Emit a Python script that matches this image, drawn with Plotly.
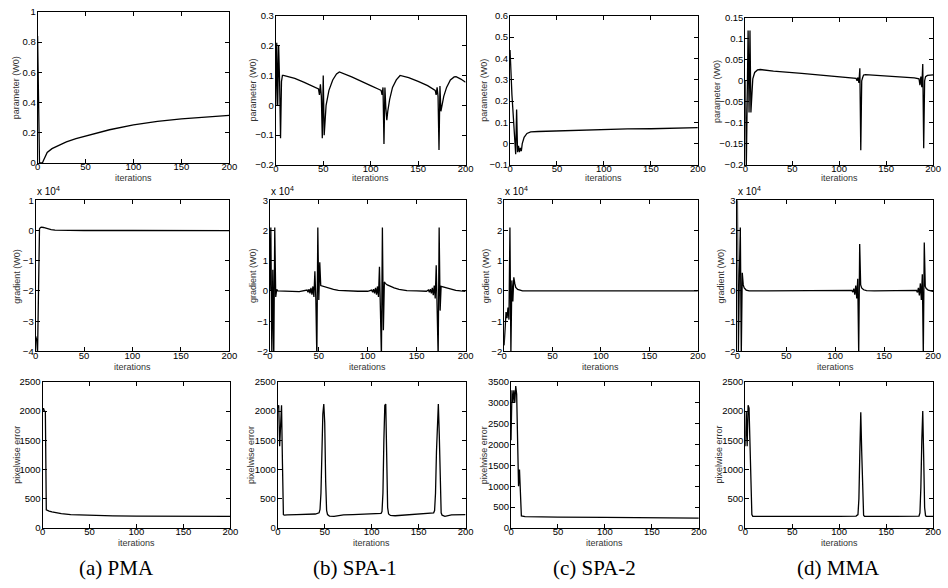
import plotly.graph_objects as go

W, H = 948, 588

# ---------------- data ----------------
# Row 1: parameter (W0)
pma_param_it = [0, 1, 2, 3, 4, 5, 6, 8, 10, 15, 20, 30, 40, 50, 75, 100, 125, 150, 175, 200]
pma_param_val = [0.84, 0.42, 0.0, 0.0, 0.0, 0.0, 0.015, 0.045, 0.07, 0.095, 0.11, 0.14, 0.162, 0.18, 0.22, 0.252, 0.275, 0.292, 0.305, 0.315]

spa1_param_it = [0, 1, 2, 3, 4, 5, 6, 7, 8, 20, 30, 40, 45, 46, 47, 48, 49, 50, 51, 52, 53, 56, 60, 64, 67,
                 80, 91, 100, 109, 111, 112, 113, 114, 115, 116, 117, 118, 120, 123, 127, 131,
                 140, 150, 160, 168, 169, 170, 171, 172, 173, 174, 175, 177, 180, 184, 188, 190, 195, 200]
spa1_param_val = [0.0, 0.21, 0.0, 0.2, 0.08, -0.11, 0.08, 0.1, 0.1, 0.09, 0.077, 0.063, 0.055, 0.035, 0.07, 0.03, -0.11, 0.1, -0.1, -0.05, 0.0, 0.05, 0.085, 0.105, 0.112,
                  0.095, 0.078, 0.066, 0.053, 0.05, 0.035, 0.06, -0.13, 0.06, -0.01, -0.05, -0.02, 0.02, 0.06, 0.085, 0.1,
                  0.093, 0.08, 0.066, 0.05, 0.035, 0.06, 0.03, -0.15, 0.065, -0.02, 0.0, 0.03, 0.06, 0.085, 0.095, 0.096, 0.088, 0.077]

spa2_param_it = [0, 1, 2, 3, 4, 5, 6, 7, 8, 9, 10, 11, 12, 13, 15, 18, 22, 30, 50, 75, 100, 125, 150, 175, 200]
spa2_param_val = [0.44, 0.3, 0.23, 0.16, 0.09, 0.02, -0.05, 0.16, -0.04, -0.01, -0.04, -0.02, -0.035, 0.0, 0.03, 0.048, 0.055, 0.057, 0.06, 0.065, 0.068, 0.069, 0.07, 0.072, 0.075]

mma_param_it = [0, 1, 2, 3, 4, 5, 6, 7, 8, 10, 13, 16, 30, 60, 90, 110, 118, 119, 120, 121, 122, 123, 124, 125, 126, 128,
                135, 160, 180, 185, 186, 187, 188, 189, 190, 191, 192, 194, 200]
mma_param_val = [0.0, -0.22, -0.05, 0.12, -0.075, 0.12, -0.075, -0.02, 0.005, 0.02, 0.026, 0.027, 0.023, 0.018, 0.012, 0.008, 0.006, 0.0, 0.008, -0.005, 0.03, -0.165, 0.0, 0.008, 0.014, 0.015,
                 0.014, 0.011, 0.007, 0.005, -0.01, 0.01, -0.015, 0.04, -0.16, 0.0, 0.01, 0.013, 0.014]

# Row 2: gradient (W0), in units of 1e4
pma_grad_it = [0, 1, 2, 3, 4, 5, 6, 8, 10, 13, 16, 20, 30, 50, 100, 150, 200]
pma_grad_val = [-3.5, -3.6, -4.05, -1.5, 0.05, 0.1, 0.11, 0.1, 0.08, 0.05, 0.03, 0.015, 0.005, 0.0, 0.0, 0.0, -0.005]

spa1_grad_it = [0, 1, 2, 3, 4, 5, 6, 7, 8, 10, 20, 30,
                38, 39, 40, 41, 42, 43, 44, 45, 46, 47, 48, 49, 50, 51, 52, 54, 57, 60, 65, 70, 80, 90, 100,
                104, 105, 106, 107, 108, 109, 110, 111, 112, 113, 114, 115, 116, 117, 118, 120, 123, 127, 132, 140, 150, 160,
                162, 163, 164, 165, 166, 167, 168, 169, 170, 171, 172, 173, 174, 175, 176, 178, 181, 185, 190, 195, 200]
spa1_grad_val = [0.0, 2.1, -2.2, 0.7, -2.2, 2.1, -0.2, 0.05, 0.0, 0.0, -0.01, -0.02,
                 0.03, -0.04, 0.06, -0.08, 0.1, -0.12, 0.15, -0.2, 0.65, -0.3, -2.2, 2.1, -0.3, 0.95, 0.18, 0.16, 0.12, 0.09, 0.05, 0.02, 0.0, -0.01, -0.01,
                 0.03, -0.04, 0.06, -0.08, 0.1, -0.12, 0.15, -0.2, 0.8, -0.65, -2.2, 2.1, -1.3, 0.3, 0.25, 0.2, 0.15, 0.1, 0.05, 0.01, 0.0, -0.01,
                 0.03, -0.04, 0.06, -0.08, 0.1, -0.14, 0.18, -0.25, 0.85, -0.9, -2.2, 2.1, -0.65, 0.15, 0.14, 0.12, 0.09, 0.06, 0.02, 0.0, -0.01]

spa2_grad_it = [0, 1, 2, 3, 4, 5, 6, 7, 8, 9, 10, 11, 12, 14, 16, 19, 25, 50, 100, 150, 200]
spa2_grad_val = [-1.8, -1.2, -0.7, -0.9, -0.55, -0.95, 2.1, -2.05, 0.35, -0.35, 0.45, 0.25, 0.12, 0.05, 0.02, 0.0, 0.0, 0.0, 0.0, 0.0, 0.0]

mma_grad_it = [0, 1, 2, 3, 4, 5, 6, 7, 9, 12, 30, 60, 100, 115,
               117, 118, 119, 120, 121, 122, 123, 124, 125, 126, 127, 129, 132, 140, 180,
               183, 184, 185, 186, 187, 188, 189, 190, 191, 192, 193, 195, 198, 200]
mma_grad_val = [3.1, -2.1, 0.5, 2.1, -2.1, 0.6, 0.2, 0.1, 0.03, 0.0, 0.0, 0.0, 0.0, 0.0,
                0.02, -0.04, 0.08, -0.12, 0.18, -0.25, 0.4, -2.1, 1.55, 0.2, 0.1, 0.04, 0.01, 0.0, 0.0,
                0.02, -0.05, 0.1, -0.15, 0.25, -0.3, 0.55, -2.1, 1.6, 0.15, 0.08, 0.03, 0.0, -0.01]

# Row 3: pixelwise error
pma_err_it = [0, 1, 2, 3, 4, 5, 7, 10, 15, 20, 30, 50, 75, 100, 150, 200]
pma_err_val = [2000, 2050, 2000, 1990, 310, 300, 290, 275, 260, 245, 230, 215, 208, 203, 200, 198]

spa1_err_it = [0, 1, 2, 3, 4, 5, 6, 7, 10, 20, 30, 40,
               44, 45, 46, 47, 48, 49, 50, 51, 52, 53, 55, 60, 70, 80, 100, 110,
               111, 112, 113, 114, 115, 116, 117, 118, 120, 125, 140, 160,
               166, 167, 168, 169, 170, 171, 172, 173, 174, 175, 178, 185, 200]
spa1_err_val = [2050, 2100, 1400, 1700, 2100, 1100, 230, 220, 225, 228, 232, 240,
                260, 320, 600, 1300, 1950, 2120, 1800, 800, 300, 230, 205, 200, 225, 230, 240, 250,
                280, 600, 1500, 2100, 2120, 1200, 350, 240, 215, 210, 230, 245,
                260, 300, 600, 1300, 1950, 2120, 1600, 600, 260, 220, 200, 225, 230]

spa2_err_it = [0, 1, 2, 3, 4, 5, 6, 7, 8, 9, 10, 11, 15, 30, 50, 100, 150, 200]
spa2_err_val = [2100, 3300, 3000, 3300, 3000, 3400, 3200, 2100, 1000, 1400, 700, 290, 275, 268, 262, 255, 248, 240]

mma_err_it = [0, 1, 2, 3, 4, 5, 6, 7, 8, 20, 60, 100, 118,
              120, 121, 122, 123, 124, 125, 126, 127, 130, 160, 185,
              186, 187, 188, 189, 190, 191, 192, 193, 200]
mma_err_val = [1400, 2000, 1400, 2100, 2050, 1300, 500, 230, 200, 198, 198, 200, 205,
               230, 500, 1300, 1980, 1300, 450, 220, 200, 198, 198, 205,
               260, 700, 1500, 2000, 1200, 350, 210, 200, 198]

x_ticks = [0, 50, 100, 150, 200]
param_ticks = [
    [0, 0.2, 0.4, 0.6, 0.8, 1],
    [-0.2, -0.1, 0, 0.1, 0.2, 0.3],
    [-0.1, 0, 0.1, 0.2, 0.3, 0.4, 0.5, 0.6],
    [-0.2, -0.15, -0.1, -0.05, 0, 0.05, 0.1, 0.15],
]
grad_ticks = [
    [-4, -3, -2, -1, 0, 1],
    [-2, -1, 0, 1, 2, 3],
    [-2, -1, 0, 1, 2, 3],
    [-2, -1, 0, 1, 2, 3],
]
err_ticks = [
    [0, 500, 1000, 1500, 2000, 2500],
    [0, 500, 1000, 1500, 2000, 2500],
    [0, 500, 1000, 1500, 2000, 2500, 3000, 3500],
    [0, 500, 1000, 1500, 2000, 2500],
]
captions = ["(a) PMA", "(b) SPA-1", "(c) SPA-2", "(d) MMA"]
row_titles = ["parameter (W0)", "gradient (W0)", "pixelwise error"]

# ---------------- layout geometry (pixels) ----------------
xdom_px = [
    [(35, 229), (276, 468), (513, 703), (751, 941)],
    [(33, 229), (270, 468), (507, 703), (743, 941)],
    [(40, 230), (278, 468), (514, 704), (751, 941)],
]
ydom_px = [
    [(6, 160), (10, 162), (10, 162), (12, 162)],
    [(198, 352)] * 4,
    [(383, 532)] * 4,
]
ytitle_x = [[14, 253, 487, 723], [14, 253, 489, 726], [14, 251, 487, 724]]
xtitle_y = [175, 368, 547]
caption_x = [115, 356, 598, 845]
caption_y = 573

series = [
    [(pma_param_it, pma_param_val), (spa1_param_it, spa1_param_val),
     (spa2_param_it, spa2_param_val), (mma_param_it, mma_param_val)],
    [(pma_grad_it, pma_grad_val), (spa1_grad_it, spa1_grad_val),
     (spa2_grad_it, spa2_grad_val), (mma_grad_it, mma_grad_val)],
    [(pma_err_it, pma_err_val), (spa1_err_it, spa1_err_val),
     (spa2_err_it, spa2_err_val), (mma_err_it, mma_err_val)],
]
ticks = [param_ticks, grad_ticks, err_ticks]


def fmt(v):
    s = ("%g" % v)
    return s.replace("-", "\u2212")


def px_x(p):
    return p / W


def px_y(p):
    return 1 - p / H


fig = go.Figure()
layout = {}
annotations = []
tick_font = dict(family="Liberation Sans, Arial, sans-serif", size=9.5, color="black")
title_font = dict(family="Liberation Sans, Arial, sans-serif", size=9, color="#333333")

k = 0
for r in range(3):
    for c in range(4):
        k += 1
        xs, ys = series[r][c]
        xname = "x" if k == 1 else "x%d" % k
        yname = "y" if k == 1 else "y%d" % k
        fig.add_trace(go.Scatter(x=xs, y=ys, mode="lines",
                                 line=dict(color="black", width=1.3),
                                 xaxis=xname, yaxis=yname, showlegend=False,
                                 hoverinfo="skip"))
        l, rr = xdom_px[r][c]
        t, b = ydom_px[r][c]
        tv = ticks[r][c]
        axbase = dict(showline=True, linecolor="black", linewidth=1, mirror="allticks",
                      ticks="inside", ticklen=4, tickcolor="black", showgrid=False,
                      zeroline=False, tickfont=tick_font)
        layout["xaxis" + ("" if k == 1 else str(k))] = dict(
            axbase, domain=[px_x(l), px_x(rr)], range=[0, 200], tickmode="array",
            tickvals=x_ticks, ticktext=[fmt(v) for v in x_ticks], anchor=yname,
            ticklabelstandoff=-5)
        layout["yaxis" + ("" if k == 1 else str(k))] = dict(
            axbase, domain=[px_y(b), px_y(t)], range=[tv[0], tv[-1]], tickmode="array",
            tickvals=tv, ticktext=[fmt(v) for v in tv], anchor=xname,
            ticklabelstandoff=-1)
        # y title
        annotations.append(dict(x=px_x(ytitle_x[r][c]), y=px_y((t + b) / 2), xref="paper", yref="paper",
                                text=row_titles[r], textangle=-90, showarrow=False,
                                font=title_font, xanchor="center", yanchor="middle"))
        # x title
        annotations.append(dict(x=px_x((l + rr) / 2), y=px_y(xtitle_y[r]), xref="paper", yref="paper",
                                text="iterations", showarrow=False, font=title_font,
                                xanchor="center", yanchor="middle"))
        if r == 1:
            annotations.append(dict(x=px_x(l - 1), y=px_y(t - 1), xref="paper", yref="paper",
                                    text="x 10<sup>4</sup>", showarrow=False,
                                    font=dict(family="Liberation Sans, Arial, sans-serif", size=10, color="black"),
                                    xanchor="left", yanchor="bottom"))

for c in range(4):
    annotations.append(dict(x=px_x(caption_x[c]), y=px_y(caption_y), xref="paper", yref="paper",
                            text=captions[c], showarrow=False,
                            font=dict(family="Liberation Serif, Times New Roman, serif", size=21, color="black"),
                            xanchor="center", yanchor="middle"))

fig.update_layout(**layout)
fig.update_layout(width=W, height=H, margin=dict(l=0, r=0, t=0, b=0),
                  paper_bgcolor="white", plot_bgcolor="white",
                  annotations=annotations, showlegend=False)

fig.write_html("out.html", config={"displayModeBar": False},
               post_script="document.body.style.margin='0';")
